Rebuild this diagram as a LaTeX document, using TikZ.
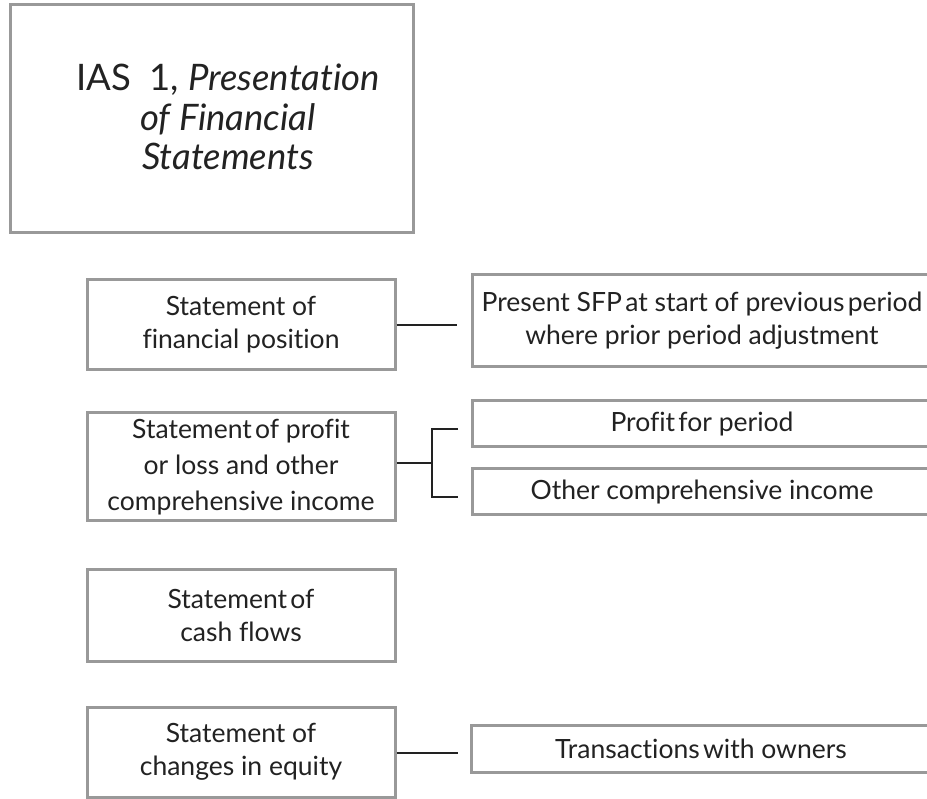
\documentclass[tikz,border=0pt]{standalone}
\usepackage{fontspec}
\setmainfont{Lato}[RawFeature={-liga}]
% narrow word gap used where the text is set tight
\newcommand{\tightsp}{\kern-3.5pt\ }
\begin{document}
\begin{tikzpicture}[x=1pt,y=-1pt,
  frame/.style={draw=boxgray, line width=3pt, fill=white, inner sep=0pt},
  lbl/.style={text=inkdark, align=center, font=\fontsize{26.5}{33}\selectfont},
  link/.style={draw=inkdark, line width=1.5pt}]
\definecolor{boxgray}{HTML}{999999}
\definecolor{inkdark}{HTML}{222222}
\useasboundingbox (0,0) rectangle (927,799);
\clip (0,0) rectangle (927,799);

% title box
\node[frame, minimum width=403pt, minimum height=228pt] (title) at (211.5,119) {};
\node[text=inkdark, align=center, font=\fontsize{36.5}{39.5}\selectfont] (titletext) at (228,117)
  {IAS\ \ 1, \textit{Presentation}\\ \textit{of Financial}\\ \textit{Statements}};

% left column of statements
\node[frame, lbl, minimum width=308pt, minimum height=90pt] (sfp) at (241,325)
  {Statement of\\ financial position};
\node[frame, lbl, minimum width=308pt, minimum height=108pt, font=\fontsize{26.5}{36}\selectfont] (sploci) at (241,467)
  {Statement\tightsp of profit\\ or loss and other\\ comprehensive income};
\node[frame, lbl, minimum width=308pt, minimum height=92pt] (scf) at (241,615)
  {Statement\tightsp of\\ cash flows};
\node[frame, lbl, minimum width=308pt, minimum height=90pt] (sce) at (241,752)
  {Statement of\\ changes in equity};

% right column of details
\node[frame, lbl, minimum width=460pt, minimum height=92pt] (prior) at (702,321)
  {Present SFP\tightsp at start of previous\tightsp period\\ where prior period adjustment};
\node[frame, lbl, minimum width=460pt, minimum height=46pt] (profit) at (702,424)
  {Profit\tightsp for period};
\node[frame, lbl, minimum width=460pt, minimum height=46pt] (oci) at (702,492)
  {Other comprehensive income};
\node[frame, lbl, minimum width=460pt, minimum height=47pt] (owners) at (701,748.5)
  {Transactions\tightsp with owners};

% connectors
\coordinate (sfpend) at (457,325);
\draw[link] (sfp.east) -- (sfpend);

\coordinate (fork) at (432,463);
\coordinate (forkup) at (458,429);
\coordinate (forkdown) at (458,497);
\draw[link] (sploci.east |- fork) -- (fork);
\draw[link] (forkup) -| (fork) |- (forkdown);

\coordinate (sceend) at (458,753);
\draw[link] (sce.east |- sceend) -- (sceend);
\end{tikzpicture}
\end{document}
